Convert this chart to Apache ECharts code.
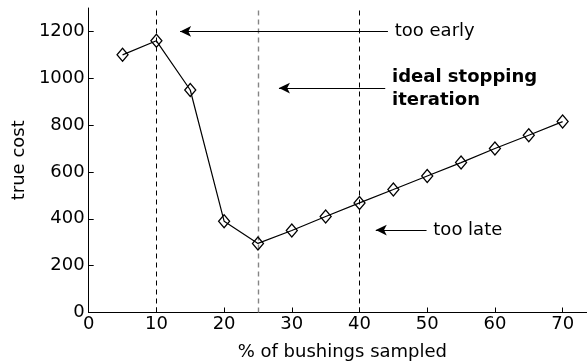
<!DOCTYPE html>
<html>
<head>
<meta charset="utf-8">
<script src="https://cdn.jsdelivr.net/npm/echarts@6/dist/echarts.min.js"></script>
<style>html,body{margin:0;padding:0;background:#fff}#c{width:587px;height:364px}</style>
</head>
<body>
<div id="c"></div>
<script>
var xValues = [5, 10, 15, 20, 25, 30, 35, 40, 45, 50, 55, 60, 65, 70];
var trueCost = [1100, 1160, 950, 390, 295, 350, 410, 468, 525, 583, 640, 700, 757, 815];
var xTicks = [0, 10, 20, 30, 40, 50, 60, 70];
var yTicks = [0, 200, 400, 600, 800, 1000, 1200];
var stopLinesBlack = [10, 40];
var stopLineIdeal = [25];
var annotations = [
  { text: 'too early', x: 45.2, y: 1200, bold: false },
  { text: 'ideal stopping\niteration', x: 44.8, y: 955, bold: true },
  { text: 'too late', x: 50.9, y: 352, bold: false }
];
var arrows = [
  { from: [44.2, 1200], to: [13.5, 1200] },
  { from: [43.8, 958], to: [28.1, 958] },
  { from: [49.9, 352], to: [42.4, 352] }
];

var FONT = 'DejaVu Sans';
var chart = echarts.init(document.getElementById('c'), null, { renderer: 'canvas' });

var lineData = xValues.map(function (x, i) { return [x, trueCost[i]]; });

var vlines = [];
stopLinesBlack.forEach(function (v) {
  vlines.push({ xAxis: v, lineStyle: { color: '#000', width: 1, type: [5, 4] } });
});
stopLineIdeal.forEach(function (v) {
  vlines.push({ xAxis: v, lineStyle: { color: '#858585', width: 1.4, type: [5, 4] } });
});
var arrowLines = arrows.map(function (a) {
  return [
    { coord: a.from, symbol: 'none' },
    { coord: a.to, symbol: 'arrow', symbolSize: [8, 11] }
  ];
});

function tickFmt(list) {
  return function (v) { return list.indexOf(v) >= 0 ? String(v) : ''; };
}

var option = {
  animation: false,
  backgroundColor: '#fff',
  grid: { left: 88.7, right: 0, top: 8, bottom: 51.5, containLabel: false, outerBoundsMode: 'none' },
  xAxis: {
    type: 'value', min: 0, max: 73.6, interval: 10,
    name: '% of bushings sampled', nameLocation: 'middle', nameGap: 31,
    nameTextStyle: { fontFamily: FONT, fontSize: 18, color: '#000', padding: [0, 0, 0, 9] },
    axisLine: { show: true, onZero: false, lineStyle: { color: '#000', width: 1 } },
    axisTick: { show: true, inside: true, length: 5, lineStyle: { color: '#000' } },
    axisLabel: { formatter: tickFmt(xTicks), showMaxLabel: false, fontFamily: FONT, fontSize: 18, color: '#000', margin: 3 },
    splitLine: { show: false }
  },
  yAxis: {
    type: 'value', min: 0, max: 1300, interval: 200,
    name: 'true cost', nameLocation: 'middle', nameGap: 47,
    nameTextStyle: { fontFamily: FONT, fontSize: 18, color: '#000' },
    axisLine: { show: true, lineStyle: { color: '#000', width: 1 } },
    axisTick: { show: true, inside: true, length: 5, lineStyle: { color: '#000' } },
    axisLabel: { formatter: tickFmt(yTicks), showMaxLabel: false, fontFamily: FONT, fontSize: 18, color: '#000', margin: 4 },
    splitLine: { show: false }
  },
  series: [
    {
      type: 'line', data: lineData, symbol: 'none', silent: true,
      lineStyle: { opacity: 0 },
      markLine: { silent: true, symbol: ['none', 'none'], label: { show: false }, data: vlines.concat(arrowLines),
        lineStyle: { color: '#000', width: 1, type: 'solid' } },
      markPoint: {
        silent: true,
        data: annotations.map(function (a) {
          return {
            coord: [a.x, a.y], symbol: 'circle', symbolSize: 0,
            label: {
              show: true, position: 'right', distance: 0, formatter: a.text,
              fontFamily: FONT, fontSize: 18, color: '#000',
              fontWeight: a.bold ? 'bold' : 'normal', lineHeight: 23,
              align: 'left', verticalAlign: 'middle'
            }
          };
        })
      }
    },
    {
      type: 'line', data: lineData, z: 5,
      symbol: 'diamond', symbolSize: [11, 13], showSymbol: true,
      lineStyle: { color: '#000', width: 1.2 },
      itemStyle: { color: 'rgba(0,0,0,0)', borderColor: '#000', borderWidth: 1.3 }
    }
  ]
};
chart.setOption(option);
</script>
</body>
</html>
